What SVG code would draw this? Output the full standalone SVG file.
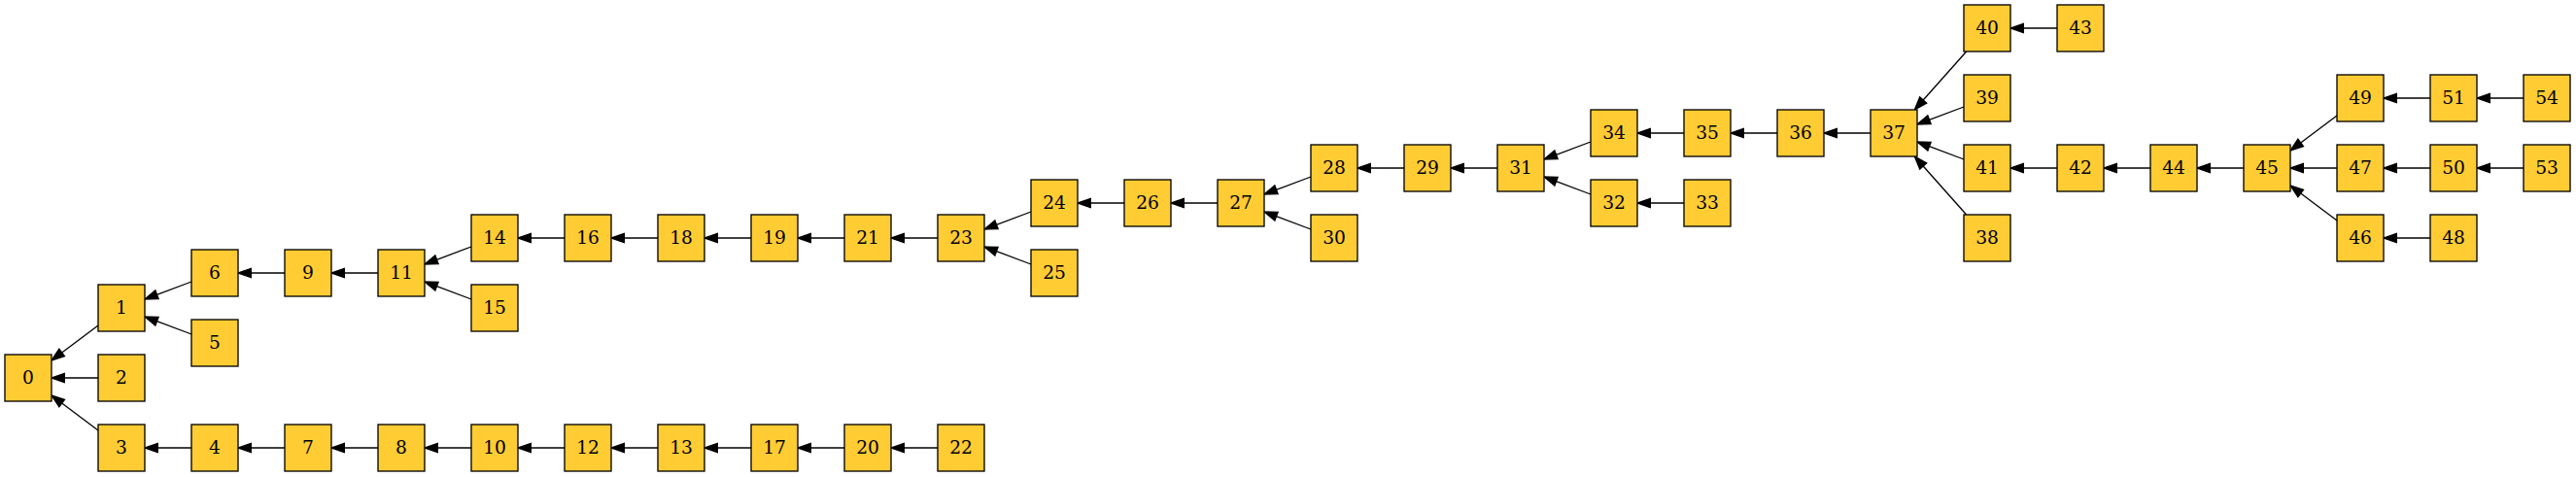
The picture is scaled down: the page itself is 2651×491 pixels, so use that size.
<svg xmlns="http://www.w3.org/2000/svg" width="2651" height="491" viewBox="0 0 2651 491">
<style>
.n rect{fill:#ffcc33;stroke:#000;stroke-width:1.33}
.n text{font-family:"DejaVu Serif","Liberation Serif",serif;font-size:18.67px;text-anchor:middle;fill:#000}
#edges line{stroke:#000;stroke-width:1.33;marker-end:url(#ah)}
</style>
<defs>
<marker id="ah" markerUnits="userSpaceOnUse" orient="auto" refX="0" refY="0" markerWidth="16" markerHeight="12" overflow="visible">
<path d="M0,-4.67 L13.33,0 L0,4.67 Z" fill="#000" stroke="#000" stroke-width="1.33"/>
</marker>
</defs>
<rect width="2651" height="491" fill="#fff"/>
<g id="edges">
<line x1="101" y1="335" x2="63.67" y2="363"/>
<line x1="101" y1="389" x2="66.33" y2="389"/>
<line x1="101" y1="443" x2="63.67" y2="415"/>
<line x1="197" y1="290" x2="161.48" y2="303.32"/>
<line x1="197" y1="344" x2="161.48" y2="330.68"/>
<line x1="197" y1="461" x2="162.33" y2="461"/>
<line x1="293" y1="281" x2="258.33" y2="281"/>
<line x1="293" y1="461" x2="258.33" y2="461"/>
<line x1="389" y1="281" x2="354.33" y2="281"/>
<line x1="389" y1="461" x2="354.33" y2="461"/>
<line x1="485" y1="254" x2="449.48" y2="267.32"/>
<line x1="485" y1="308" x2="449.48" y2="294.68"/>
<line x1="485" y1="461" x2="450.33" y2="461"/>
<line x1="581" y1="245" x2="546.33" y2="245"/>
<line x1="581" y1="461" x2="546.33" y2="461"/>
<line x1="677" y1="245" x2="642.33" y2="245"/>
<line x1="677" y1="461" x2="642.33" y2="461"/>
<line x1="773" y1="245" x2="738.33" y2="245"/>
<line x1="773" y1="461" x2="738.33" y2="461"/>
<line x1="869" y1="245" x2="834.33" y2="245"/>
<line x1="869" y1="461" x2="834.33" y2="461"/>
<line x1="965" y1="245" x2="930.33" y2="245"/>
<line x1="965" y1="461" x2="930.33" y2="461"/>
<line x1="1061" y1="218" x2="1025.48" y2="231.32"/>
<line x1="1061" y1="272" x2="1025.48" y2="258.68"/>
<line x1="1157" y1="209" x2="1122.33" y2="209"/>
<line x1="1253" y1="209" x2="1218.33" y2="209"/>
<line x1="1349" y1="182" x2="1313.48" y2="195.32"/>
<line x1="1349" y1="236" x2="1313.48" y2="222.68"/>
<line x1="1445" y1="173" x2="1410.33" y2="173"/>
<line x1="1541" y1="173" x2="1506.33" y2="173"/>
<line x1="1637" y1="146" x2="1601.48" y2="159.32"/>
<line x1="1637" y1="200" x2="1601.48" y2="186.68"/>
<line x1="1733" y1="137" x2="1698.33" y2="137"/>
<line x1="1733" y1="209" x2="1698.33" y2="209"/>
<line x1="1829" y1="137" x2="1794.33" y2="137"/>
<line x1="1925" y1="137" x2="1890.33" y2="137"/>
<line x1="2023.67" y1="53" x2="1979.19" y2="103.03"/>
<line x1="2021" y1="110" x2="1985.48" y2="123.32"/>
<line x1="2021" y1="164" x2="1985.48" y2="150.68"/>
<line x1="2023.67" y1="221" x2="1979.19" y2="170.97"/>
<line x1="2117" y1="29" x2="2082.33" y2="29"/>
<line x1="2117" y1="173" x2="2082.33" y2="173"/>
<line x1="2213" y1="173" x2="2178.33" y2="173"/>
<line x1="2309" y1="173" x2="2274.33" y2="173"/>
<line x1="2405" y1="119" x2="2367.67" y2="147"/>
<line x1="2405" y1="173" x2="2370.33" y2="173"/>
<line x1="2405" y1="227" x2="2367.67" y2="199"/>
<line x1="2501" y1="101" x2="2466.33" y2="101"/>
<line x1="2501" y1="173" x2="2466.33" y2="173"/>
<line x1="2501" y1="245" x2="2466.33" y2="245"/>
<line x1="2597" y1="101" x2="2562.33" y2="101"/>
<line x1="2597" y1="173" x2="2562.33" y2="173"/>
</g>
<g id="node0" class="n"><rect x="5" y="365" width="48" height="48"/><text x="29" y="394.5">0</text></g>
<g id="node1" class="n"><rect x="101" y="293" width="48" height="48"/><text x="125" y="322.5">1</text></g>
<g id="node2" class="n"><rect x="101" y="365" width="48" height="48"/><text x="125" y="394.5">2</text></g>
<g id="node3" class="n"><rect x="101" y="437" width="48" height="48"/><text x="125" y="466.5">3</text></g>
<g id="node6" class="n"><rect x="197" y="257" width="48" height="48"/><text x="221" y="286.5">6</text></g>
<g id="node5" class="n"><rect x="197" y="329" width="48" height="48"/><text x="221" y="358.5">5</text></g>
<g id="node4" class="n"><rect x="197" y="437" width="48" height="48"/><text x="221" y="466.5">4</text></g>
<g id="node9" class="n"><rect x="293" y="257" width="48" height="48"/><text x="317" y="286.5">9</text></g>
<g id="node7" class="n"><rect x="293" y="437" width="48" height="48"/><text x="317" y="466.5">7</text></g>
<g id="node11" class="n"><rect x="389" y="257" width="48" height="48"/><text x="413" y="286.5">11</text></g>
<g id="node8" class="n"><rect x="389" y="437" width="48" height="48"/><text x="413" y="466.5">8</text></g>
<g id="node14" class="n"><rect x="485" y="221" width="48" height="48"/><text x="509" y="250.5">14</text></g>
<g id="node15" class="n"><rect x="485" y="293" width="48" height="48"/><text x="509" y="322.5">15</text></g>
<g id="node10" class="n"><rect x="485" y="437" width="48" height="48"/><text x="509" y="466.5">10</text></g>
<g id="node16" class="n"><rect x="581" y="221" width="48" height="48"/><text x="605" y="250.5">16</text></g>
<g id="node12" class="n"><rect x="581" y="437" width="48" height="48"/><text x="605" y="466.5">12</text></g>
<g id="node18" class="n"><rect x="677" y="221" width="48" height="48"/><text x="701" y="250.5">18</text></g>
<g id="node13" class="n"><rect x="677" y="437" width="48" height="48"/><text x="701" y="466.5">13</text></g>
<g id="node19" class="n"><rect x="773" y="221" width="48" height="48"/><text x="797" y="250.5">19</text></g>
<g id="node17" class="n"><rect x="773" y="437" width="48" height="48"/><text x="797" y="466.5">17</text></g>
<g id="node21" class="n"><rect x="869" y="221" width="48" height="48"/><text x="893" y="250.5">21</text></g>
<g id="node20" class="n"><rect x="869" y="437" width="48" height="48"/><text x="893" y="466.5">20</text></g>
<g id="node23" class="n"><rect x="965" y="221" width="48" height="48"/><text x="989" y="250.5">23</text></g>
<g id="node22" class="n"><rect x="965" y="437" width="48" height="48"/><text x="989" y="466.5">22</text></g>
<g id="node24" class="n"><rect x="1061" y="185" width="48" height="48"/><text x="1085" y="214.5">24</text></g>
<g id="node25" class="n"><rect x="1061" y="257" width="48" height="48"/><text x="1085" y="286.5">25</text></g>
<g id="node26" class="n"><rect x="1157" y="185" width="48" height="48"/><text x="1181" y="214.5">26</text></g>
<g id="node27" class="n"><rect x="1253" y="185" width="48" height="48"/><text x="1277" y="214.5">27</text></g>
<g id="node28" class="n"><rect x="1349" y="149" width="48" height="48"/><text x="1373" y="178.5">28</text></g>
<g id="node30" class="n"><rect x="1349" y="221" width="48" height="48"/><text x="1373" y="250.5">30</text></g>
<g id="node29" class="n"><rect x="1445" y="149" width="48" height="48"/><text x="1469" y="178.5">29</text></g>
<g id="node31" class="n"><rect x="1541" y="149" width="48" height="48"/><text x="1565" y="178.5">31</text></g>
<g id="node34" class="n"><rect x="1637" y="113" width="48" height="48"/><text x="1661" y="142.5">34</text></g>
<g id="node32" class="n"><rect x="1637" y="185" width="48" height="48"/><text x="1661" y="214.5">32</text></g>
<g id="node35" class="n"><rect x="1733" y="113" width="48" height="48"/><text x="1757" y="142.5">35</text></g>
<g id="node33" class="n"><rect x="1733" y="185" width="48" height="48"/><text x="1757" y="214.5">33</text></g>
<g id="node36" class="n"><rect x="1829" y="113" width="48" height="48"/><text x="1853" y="142.5">36</text></g>
<g id="node37" class="n"><rect x="1925" y="113" width="48" height="48"/><text x="1949" y="142.5">37</text></g>
<g id="node40" class="n"><rect x="2021" y="5" width="48" height="48"/><text x="2045" y="34.5">40</text></g>
<g id="node39" class="n"><rect x="2021" y="77" width="48" height="48"/><text x="2045" y="106.5">39</text></g>
<g id="node41" class="n"><rect x="2021" y="149" width="48" height="48"/><text x="2045" y="178.5">41</text></g>
<g id="node38" class="n"><rect x="2021" y="221" width="48" height="48"/><text x="2045" y="250.5">38</text></g>
<g id="node43" class="n"><rect x="2117" y="5" width="48" height="48"/><text x="2141" y="34.5">43</text></g>
<g id="node42" class="n"><rect x="2117" y="149" width="48" height="48"/><text x="2141" y="178.5">42</text></g>
<g id="node44" class="n"><rect x="2213" y="149" width="48" height="48"/><text x="2237" y="178.5">44</text></g>
<g id="node45" class="n"><rect x="2309" y="149" width="48" height="48"/><text x="2333" y="178.5">45</text></g>
<g id="node49" class="n"><rect x="2405" y="77" width="48" height="48"/><text x="2429" y="106.5">49</text></g>
<g id="node47" class="n"><rect x="2405" y="149" width="48" height="48"/><text x="2429" y="178.5">47</text></g>
<g id="node46" class="n"><rect x="2405" y="221" width="48" height="48"/><text x="2429" y="250.5">46</text></g>
<g id="node51" class="n"><rect x="2501" y="77" width="48" height="48"/><text x="2525" y="106.5">51</text></g>
<g id="node50" class="n"><rect x="2501" y="149" width="48" height="48"/><text x="2525" y="178.5">50</text></g>
<g id="node48" class="n"><rect x="2501" y="221" width="48" height="48"/><text x="2525" y="250.5">48</text></g>
<g id="node54" class="n"><rect x="2597" y="77" width="48" height="48"/><text x="2621" y="106.5">54</text></g>
<g id="node53" class="n"><rect x="2597" y="149" width="48" height="48"/><text x="2621" y="178.5">53</text></g>
</svg>
